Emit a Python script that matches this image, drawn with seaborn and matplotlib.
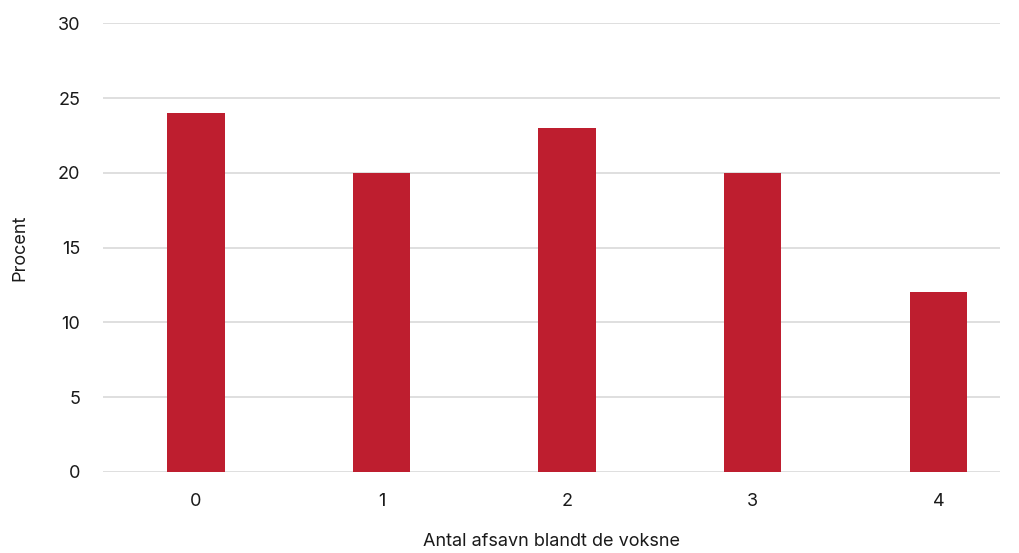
import matplotlib
matplotlib.use("Agg")
import matplotlib.pyplot as plt
import seaborn as sns
import pandas as pd

categories = ["0", "1", "2", "3", "4"]
values = [24, 20, 23, 20, 12]
yticks = [0, 5, 10, 15, 20, 25, 30]

sns.set_style("white")
plt.rcParams["font.family"] = ["Inter", "DejaVu Sans"]

df = pd.DataFrame({"cat": categories, "val": values})

fig = plt.figure(figsize=(10.19, 5.53), dpi=100)
ax = fig.add_axes([0.101, 0.1465, 0.880, 0.8115])

sns.barplot(data=df, x="cat", y="val", color="#BE1E2F", width=0.31, saturation=1,
            linewidth=0, edgecolor="none", ax=ax, zorder=3)

ax.set_ylim(0, 30)
ax.set_xlim(-0.5, 4.33)
ax.set_yticks(yticks)
ax.set_yticklabels([str(t) for t in yticks])
ax.yaxis.grid(True, color="#dcdcdc", linewidth=1.3, zorder=0)
ax.set_axisbelow(True)
for s in ax.spines.values():
    s.set_visible(False)
ax.tick_params(axis="both", length=0, labelsize=13, colors="#1a1a1a")
ax.tick_params(axis="y", pad=16.5)
ax.tick_params(axis="x", pad=15)
ax.set_xlabel("Antal afsavn blandt de voksne", fontsize=13, color="#1a1a1a", labelpad=17)
ax.set_ylabel("Procent", fontsize=13, color="#1a1a1a", labelpad=21)

fig.savefig("out.png", dpi=100)
